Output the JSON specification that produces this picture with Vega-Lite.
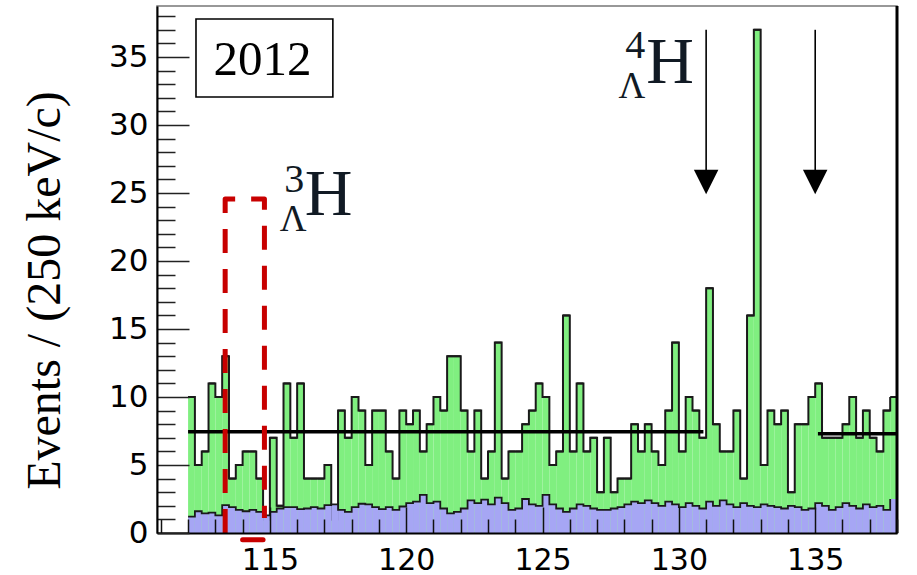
{
  "$schema": "https://vega.github.io/schema/vega-lite/v6.json",
  "width": 740,
  "height": 527,
  "autosize": {"type": "none"},
  "padding": {"left": 157, "top": 6, "right": 20, "bottom": 42},
  "background": "white",
  "config": {"view": {"stroke": "#777777", "strokeWidth": 1.5}},
  "datasets": {
    "h": [
      {"lo":112,"hi":112.25,"n":10,"b":1.2},{"lo":112.25,"hi":112.5,"n":5,"b":1.6},{"lo":112.5,"hi":112.75,"n":6,"b":1.45},{"lo":112.75,"hi":113,"n":11,"b":1.5},
      {"lo":113,"hi":113.25,"n":10,"b":1.3},{"lo":113.25,"hi":113.5,"n":13,"b":2.05},{"lo":113.5,"hi":113.75,"n":4,"b":1.9},{"lo":113.75,"hi":114,"n":5,"b":1.7},
      {"lo":114,"hi":114.25,"n":6,"b":1.6},{"lo":114.25,"hi":114.5,"n":6,"b":1.7},{"lo":114.5,"hi":114.75,"n":4,"b":1.55},{"lo":114.75,"hi":115,"n":1,"b":1.3},
      {"lo":115,"hi":115.25,"n":7,"b":1.55},{"lo":115.25,"hi":115.5,"n":2,"b":1.8},{"lo":115.5,"hi":115.75,"n":11,"b":1.9},{"lo":115.75,"hi":116,"n":7,"b":1.9},
      {"lo":116,"hi":116.25,"n":11,"b":1.75},{"lo":116.25,"hi":116.5,"n":4,"b":1.8},{"lo":116.5,"hi":116.75,"n":4,"b":1.9},{"lo":116.75,"hi":117,"n":4,"b":1.8},
      {"lo":117,"hi":117.25,"n":5,"b":2.05},{"lo":117.25,"hi":117.5,"n":1,"b":2.1},{"lo":117.5,"hi":117.75,"n":9,"b":1.7},{"lo":117.75,"hi":118,"n":7,"b":1.55},
      {"lo":118,"hi":118.25,"n":10,"b":1.9},{"lo":118.25,"hi":118.5,"n":9,"b":2.15},{"lo":118.5,"hi":118.75,"n":5,"b":2.1},{"lo":118.75,"hi":119,"n":9,"b":1.9},
      {"lo":119,"hi":119.25,"n":9,"b":1.75},{"lo":119.25,"hi":119.5,"n":6,"b":1.9},{"lo":119.5,"hi":119.75,"n":4,"b":1.7},{"lo":119.75,"hi":120,"n":9,"b":1.95},
      {"lo":120,"hi":120.25,"n":8,"b":2.2},{"lo":120.25,"hi":120.5,"n":9,"b":2.3},{"lo":120.5,"hi":120.75,"n":6,"b":2.8},{"lo":120.75,"hi":121,"n":8,"b":2.2},
      {"lo":121,"hi":121.25,"n":10,"b":2.3},{"lo":121.25,"hi":121.5,"n":9,"b":1.8},{"lo":121.5,"hi":121.75,"n":13,"b":1.45},{"lo":121.75,"hi":122,"n":13,"b":1.55},
      {"lo":122,"hi":122.25,"n":9,"b":1.8},{"lo":122.25,"hi":122.5,"n":6,"b":2.4},{"lo":122.5,"hi":122.75,"n":9,"b":2.2},{"lo":122.75,"hi":123,"n":4,"b":2.45},
      {"lo":123,"hi":123.25,"n":6,"b":2.1},{"lo":123.25,"hi":123.5,"n":14,"b":2.6},{"lo":123.5,"hi":123.75,"n":4,"b":2.2},{"lo":123.75,"hi":124,"n":6,"b":1.7},
      {"lo":124,"hi":124.25,"n":6,"b":1.8},{"lo":124.25,"hi":124.5,"n":8,"b":2.5},{"lo":124.5,"hi":124.75,"n":9,"b":2.1},{"lo":124.75,"hi":125,"n":11,"b":2.0},
      {"lo":125,"hi":125.25,"n":10,"b":2.8},{"lo":125.25,"hi":125.5,"n":5,"b":2.1},{"lo":125.5,"hi":125.75,"n":6,"b":1.8},{"lo":125.75,"hi":126,"n":16,"b":1.55},
      {"lo":126,"hi":126.25,"n":6,"b":1.8},{"lo":126.25,"hi":126.5,"n":11,"b":2.1},{"lo":126.5,"hi":126.75,"n":6,"b":2.0},{"lo":126.75,"hi":127,"n":7,"b":1.8},
      {"lo":127,"hi":127.25,"n":3,"b":1.7},{"lo":127.25,"hi":127.5,"n":7,"b":1.7},{"lo":127.5,"hi":127.75,"n":3,"b":1.8},{"lo":127.75,"hi":128,"n":4,"b":1.9},
      {"lo":128,"hi":128.25,"n":4,"b":2.1},{"lo":128.25,"hi":128.5,"n":8,"b":2.3},{"lo":128.5,"hi":128.75,"n":6,"b":2.2},{"lo":128.75,"hi":129,"n":8,"b":2.4},
      {"lo":129,"hi":129.25,"n":6,"b":2.2},{"lo":129.25,"hi":129.5,"n":5,"b":2.0},{"lo":129.5,"hi":129.75,"n":9,"b":2.3},{"lo":129.75,"hi":130,"n":14,"b":2.1},
      {"lo":130,"hi":130.25,"n":6,"b":1.9},{"lo":130.25,"hi":130.5,"n":10,"b":2.2},{"lo":130.5,"hi":130.75,"n":9,"b":2.0},{"lo":130.75,"hi":131,"n":7,"b":1.8},
      {"lo":131,"hi":131.25,"n":18,"b":2.3},{"lo":131.25,"hi":131.5,"n":8,"b":2.0},{"lo":131.5,"hi":131.75,"n":6,"b":2.4},{"lo":131.75,"hi":132,"n":6,"b":2.1},
      {"lo":132,"hi":132.25,"n":9,"b":1.9},{"lo":132.25,"hi":132.5,"n":4,"b":2.2},{"lo":132.5,"hi":132.75,"n":16,"b":2.0},{"lo":132.75,"hi":133,"n":37,"b":1.9},
      {"lo":133,"hi":133.25,"n":5,"b":2.1},{"lo":133.25,"hi":133.5,"n":9,"b":2.0},{"lo":133.5,"hi":133.75,"n":8,"b":1.9},{"lo":133.75,"hi":134,"n":9,"b":1.8},
      {"lo":134,"hi":134.25,"n":3,"b":2.0},{"lo":134.25,"hi":134.5,"n":8,"b":1.9},{"lo":134.5,"hi":134.75,"n":8,"b":1.7},{"lo":134.75,"hi":135,"n":10,"b":1.8},
      {"lo":135,"hi":135.25,"n":11,"b":2.2},{"lo":135.25,"hi":135.5,"n":7,"b":2.0},{"lo":135.5,"hi":135.75,"n":7,"b":1.7},{"lo":135.75,"hi":136,"n":7,"b":1.9},
      {"lo":136,"hi":136.25,"n":8,"b":2.2},{"lo":136.25,"hi":136.5,"n":10,"b":2.0},{"lo":136.5,"hi":136.75,"n":7,"b":1.8},{"lo":136.75,"hi":137,"n":9,"b":2.1},
      {"lo":137,"hi":137.25,"n":7,"b":1.9},{"lo":137.25,"hi":137.5,"n":6,"b":2.0},{"lo":137.5,"hi":137.75,"n":9,"b":1.7},{"lo":137.75,"hi":138,"n":10,"b":2.5}
    ],
    "fit": [{"a":112,"b":130.9,"y":7.45},{"a":135.1,"b":138,"y":7.3}],
    "arrows": [{"x":131,"top":37,"end":26.5,"tip":25.8},{"x":135,"top":37,"end":26.5,"tip":25.8}],
    "box": [{"x1":112.29,"x2":117.31,"y1":32.06,"y2":37.79}],
    "frame": [{"x":138,"y1":0,"y2":38.75}],
    "red": [{"o":0,"x":113.36,"y":0},{"o":1,"x":113.36,"y":24.56},{"o":2,"x":114.8,"y":24.56},{"o":3,"x":114.8,"y":1.1}],
    "redarrow": [{"x1":114.0,"x2":114.75,"y":-0.5}],
    "year": [{"x":114.73,"y":33.68,"t":"2012"}],
    "big": [{"x":117.15,"y":23.38,"t":"H"},{"x":129.68,"y":33.09,"t":"H"}],
    "sup": [{"x":115.89,"y":25.1,"t":"3"},{"x":128.4,"y":34.9,"t":"4"}],
    "sub": [{"x":115.85,"y":22.2,"t":"Λ"},{"x":128.28,"y":31.95,"t":"Λ"}]
  },
  "layer": [
    {
      "data": {"name": "h"},
      "mark": {"type": "rect", "color": "#80ef80"},
      "encoding": {
        "x": {"field": "lo", "type": "quantitative", "scale": {"domain": [110.86, 138], "nice": false, "zero": false},
          "axis": {"values": [111,112,113,114,115,116,117,118,119,120,121,122,123,124,125,126,127,128,129,130,131,132,133,134,135,136,137,138],
            "tickCount": 500, "format": "d",
            "tickSize": {"condition": {"test": "datum.value % 5 === 0", "value": -26}, "value": -14},
            "tickColor": "#111111", "tickWidth": 1.5, "domainColor": "#000000", "domainWidth": 2,
            "labelExpr": "datum.value % 5 === 0 ? datum.label : ''", "labelFont": "DejaVu Sans", "labelFontSize": 30,
            "labelColor": "#000000", "labelPadding": 38, "labelOverlap": false, "labelFlush": false, "title": null, "grid": false, "zindex": 1}},
        "x2": {"field": "hi"},
        "y": {"field": "n", "type": "quantitative", "scale": {"domain": [0, 38.75], "nice": false, "zero": false},
          "axis": {"values": [0,1,2,3,4,5,6,7,8,9,10,11,12,13,14,15,16,17,18,19,20,21,22,23,24,25,26,27,28,29,30,31,32,33,34,35,36,37,38],
            "tickCount": 500, "format": "d",
            "tickSize": {"condition": {"test": "datum.value % 5 === 0", "value": -32}, "value": -18},
            "tickColor": "#222222", "tickWidth": 1.5, "domainColor": "#000000", "domainWidth": 2,
            "labelExpr": "datum.value % 5 === 0 ? datum.label : ''", "labelFont": "DejaVu Sans", "labelFontSize": 31,
            "labelColor": "#000000", "labelPadding": 41, "labelOverlap": false, "labelFlush": false, "grid": false, "zindex": 1,
            "title": "Events / (250 keV/c)", "titleFont": "Liberation Serif", "titleFontSize": 48, "titleFontWeight": "normal",
            "titleColor": "#000000", "titleX": -98, "titleY": 284, "titleAngle": -90, "titleAlign": "center", "titleBaseline": "alphabetic"}},
        "y2": {"datum": 0}
      }
    },
    {
      "data": {"name": "h"},
      "mark": {"type": "line", "interpolate": "step-after", "color": "#1a1a1a", "strokeWidth": 2},
      "encoding": {
        "x": {"field": "lo", "type": "quantitative", "scale": {"domain": [110.86, 138], "nice": false, "zero": false}},
        "y": {"field": "n", "type": "quantitative", "scale": {"domain": [0, 38.75], "nice": false, "zero": false}}
      }
    },
    {
      "data": {"name": "h"},
      "mark": {"type": "rule", "color": "#1a1a1a", "strokeWidth": 2},
      "encoding": {
        "x": {"field": "lo", "type": "quantitative", "scale": {"domain": [110.86, 138], "nice": false, "zero": false}},
        "x2": {"field": "hi"},
        "y": {"field": "n", "type": "quantitative", "scale": {"domain": [0, 38.75], "nice": false, "zero": false}}
      }
    },
    {
      "data": {"name": "h"},
      "mark": {"type": "rect", "color": "#a6a6f4"},
      "encoding": {
        "x": {"field": "lo", "type": "quantitative", "scale": {"domain": [110.86, 138], "nice": false, "zero": false}},
        "x2": {"field": "hi"},
        "y": {"field": "b", "type": "quantitative", "scale": {"domain": [0, 38.75], "nice": false, "zero": false}},
        "y2": {"datum": 0}
      }
    },
    {
      "data": {"name": "h"},
      "mark": {"type": "line", "interpolate": "step-after", "color": "#1a1a1a", "strokeWidth": 1.8},
      "encoding": {
        "x": {"field": "lo", "type": "quantitative", "scale": {"domain": [110.86, 138], "nice": false, "zero": false}},
        "y": {"field": "b", "type": "quantitative", "scale": {"domain": [0, 38.75], "nice": false, "zero": false}}
      }
    },
    {
      "data": {"name": "fit"},
      "mark": {"type": "rule", "color": "#000000", "strokeWidth": 3.5},
      "encoding": {
        "x": {"field": "a", "type": "quantitative", "scale": {"domain": [110.86, 138], "nice": false, "zero": false}},
        "x2": {"field": "b"},
        "y": {"field": "y", "type": "quantitative", "scale": {"domain": [0, 38.75], "nice": false, "zero": false}}
      }
    },
    {
      "data": {"name": "frame"},
      "mark": {"type": "rule", "color": "#000000", "strokeWidth": 3},
      "encoding": {
        "x": {"field": "x", "type": "quantitative", "scale": {"domain": [110.86, 138], "nice": false, "zero": false}},
        "y": {"field": "y1", "type": "quantitative", "scale": {"domain": [0, 38.75], "nice": false, "zero": false}},
        "y2": {"field": "y2"}
      }
    },
    {
      "data": {"name": "red"},
      "mark": {"type": "line", "color": "#c80000", "strokeWidth": 5, "strokeDash": [24, 16], "strokeJoin": "round", "strokeCap": "butt"},
      "encoding": {
        "x": {"field": "x", "type": "quantitative", "scale": {"domain": [110.86, 138], "nice": false, "zero": false}},
        "y": {"field": "y", "type": "quantitative", "scale": {"domain": [0, 38.75], "nice": false, "zero": false}},
        "order": {"field": "o"}
      }
    },
    {
      "data": {"name": "redarrow"},
      "mark": {"type": "rule", "color": "#c80000", "strokeWidth": 5, "strokeCap": "round"},
      "encoding": {
        "x": {"field": "x1", "type": "quantitative", "scale": {"domain": [110.86, 138], "nice": false, "zero": false}},
        "x2": {"field": "x2"},
        "y": {"field": "y", "type": "quantitative", "scale": {"domain": [0, 38.75], "nice": false, "zero": false}}
      }
    },
    {
      "data": {"name": "arrows"},
      "mark": {"type": "rule", "color": "#000000", "strokeWidth": 1.6},
      "encoding": {
        "x": {"field": "x", "type": "quantitative", "scale": {"domain": [110.86, 138], "nice": false, "zero": false}},
        "y": {"field": "top", "type": "quantitative", "scale": {"domain": [0, 38.75], "nice": false, "zero": false}},
        "y2": {"field": "end"}
      }
    },
    {
      "data": {"name": "arrows"},
      "mark": {"type": "point", "shape": "M-1,-1L1,-1L0,1Z", "filled": true, "color": "#000000", "opacity": 1, "size": 600, "strokeWidth": 0},
      "encoding": {
        "x": {"field": "x", "type": "quantitative", "scale": {"domain": [110.86, 138], "nice": false, "zero": false}},
        "y": {"field": "tip", "type": "quantitative", "scale": {"domain": [0, 38.75], "nice": false, "zero": false}}
      }
    },
    {
      "data": {"name": "box"},
      "mark": {"type": "rect", "fill": "#ffffff", "stroke": "#000000", "strokeWidth": 1.6},
      "encoding": {
        "x": {"field": "x1", "type": "quantitative", "scale": {"domain": [110.86, 138], "nice": false, "zero": false}},
        "x2": {"field": "x2"},
        "y": {"field": "y1", "type": "quantitative", "scale": {"domain": [0, 38.75], "nice": false, "zero": false}},
        "y2": {"field": "y2"}
      }
    },
    {
      "data": {"name": "year"},
      "mark": {"type": "text", "font": "Liberation Serif", "fontSize": 49, "align": "center", "baseline": "alphabetic", "color": "#000000"},
      "encoding": {
        "x": {"field": "x", "type": "quantitative", "scale": {"domain": [110.86, 138], "nice": false, "zero": false}},
        "y": {"field": "y", "type": "quantitative", "scale": {"domain": [0, 38.75], "nice": false, "zero": false}},
        "text": {"field": "t"}
      }
    },
    {
      "data": {"name": "big"},
      "mark": {"type": "text", "font": "Liberation Serif", "fontSize": 66, "align": "center", "baseline": "alphabetic", "color": "#111a24"},
      "encoding": {
        "x": {"field": "x", "type": "quantitative", "scale": {"domain": [110.86, 138], "nice": false, "zero": false}},
        "y": {"field": "y", "type": "quantitative", "scale": {"domain": [0, 38.75], "nice": false, "zero": false}},
        "text": {"field": "t"}
      }
    },
    {
      "data": {"name": "sup"},
      "mark": {"type": "text", "font": "Liberation Serif", "fontSize": 40, "align": "center", "baseline": "alphabetic", "color": "#111a24"},
      "encoding": {
        "x": {"field": "x", "type": "quantitative", "scale": {"domain": [110.86, 138], "nice": false, "zero": false}},
        "y": {"field": "y", "type": "quantitative", "scale": {"domain": [0, 38.75], "nice": false, "zero": false}},
        "text": {"field": "t"}
      }
    },
    {
      "data": {"name": "sub"},
      "mark": {"type": "text", "font": "Liberation Serif", "fontSize": 37, "align": "center", "baseline": "alphabetic", "color": "#111a24"},
      "encoding": {
        "x": {"field": "x", "type": "quantitative", "scale": {"domain": [110.86, 138], "nice": false, "zero": false}},
        "y": {"field": "y", "type": "quantitative", "scale": {"domain": [0, 38.75], "nice": false, "zero": false}},
        "text": {"field": "t"}
      }
    }
  ]
}
